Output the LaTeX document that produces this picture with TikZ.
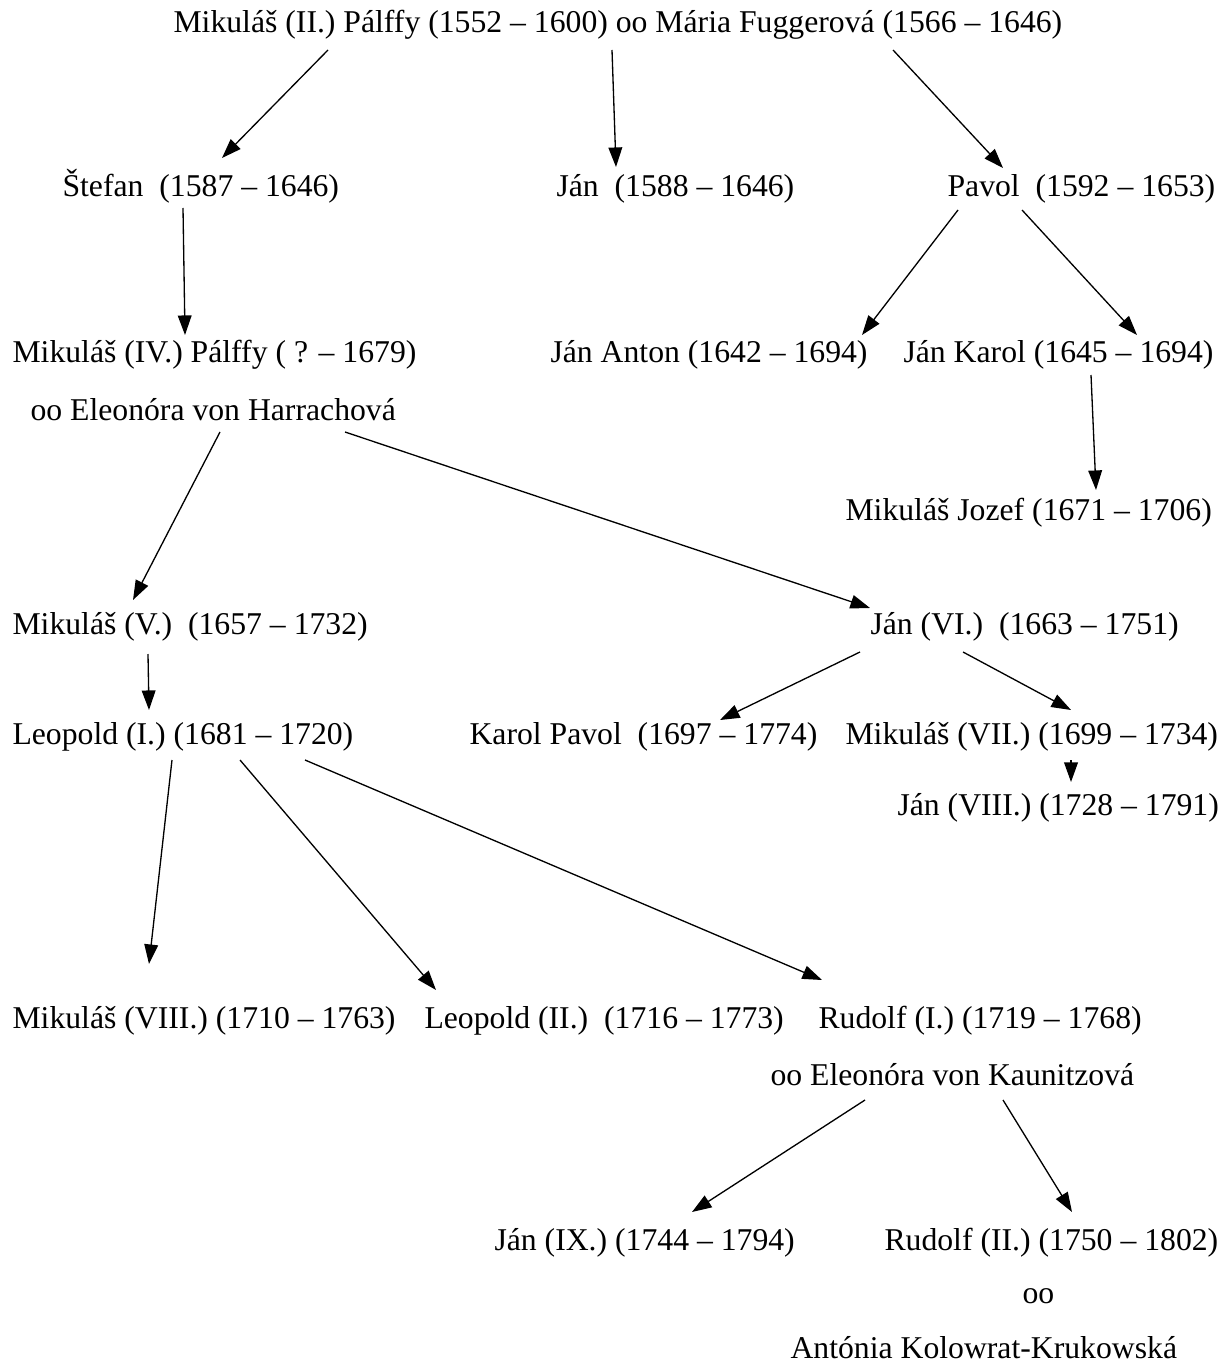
\documentclass[tikz,border=0pt]{standalone}
\usepackage{fontspec}
\setmainfont{Liberation Serif}
\usepackage{tikz}
\usetikzlibrary{arrows.meta,calc}

\begin{document}
\begin{tikzpicture}[x=0.3785pt,y=-0.3785pt,
    person/.style={anchor=base west,inner sep=0pt,font=\fontsize{12}{14}\selectfont},
    line/.style={-{Triangle[length=7.4pt,width=5.2pt]},line width=0.5pt}]
    \useasboundingbox (0,0) rectangle (1230,1362);

    \node[person] (mik2) at (173,33) {Mikuláš (II.) Pálffy (1552 – 1600) oo Mária Fuggerová (1566 – 1646)};
    \node[person] (stefan) at (62,197) {Štefan~ (1587 – 1646)};
    \node[person] (jan1) at (556,197) {Ján~ (1588 – 1646)};
    \node[person] (pavol) at (947,197) {Pavol~ (1592 – 1653)};
    \node[person] (mik4) at (12,363) {Mikuláš (IV.) Pálffy ( ? – 1679)};
    \node[person] (janant) at (550,363) {Ján Anton (1642 – 1694)};
    \node[person] (jankar) at (903,363) {Ján Karol (1645 – 1694)};
    \node[person] (harr) at (30,420) {oo Eleonóra von Harrachová};
    \node[person] (mikjoz) at (845,520) {Mikuláš Jozef (1671 – 1706)};
    \node[person] (mik5) at (12,634) {Mikuláš (V.)~ (1657 – 1732)};
    \node[person] (jan6) at (870,634) {Ján (VI.)~ (1663 – 1751)};
    \node[person] (leo1) at (12,744) {Leopold (I.) (1681 – 1720)};
    \node[person] (karpav) at (469,744) {Karol Pavol~ (1697 – 1774)};
    \node[person] (mik7) at (845,744) {Mikuláš (VII.) (1699 – 1734)};
    \node[person] (jan8) at (897,815) {Ján (VIII.) (1728 – 1791)};
    \node[person] (mik8) at (12,1028) {Mikuláš (VIII.) (1710 – 1763)};
    \node[person] (leo2) at (424,1028) {Leopold (II.)~ (1716 – 1773)};
    \node[person] (rud1) at (818,1028) {Rudolf (I.) (1719 – 1768)};
    \node[person] (kaun) at (770,1085) {oo Eleonóra von Kaunitzová};
    \node[person] (jan9) at (494,1250) {Ján (IX.) (1744 – 1794)};
    \node[person] (rud2) at (884,1250) {Rudolf (II.) (1750 – 1802)};
    \node[person] (oo) at (1022,1303) {oo};
    \node[person] (anto) at (790,1358) {Antónia Kolowrat-Krukowská};

    \draw[line] ($(mik2.base west)+(155,17)$) -- ($(stefan.base west)+(160,-39)$);
    \draw[line] ($(mik2.base west)+(439,17)$) -- ($(jan1.base west)+(60,-30)$);
    \draw[line] ($(mik2.base west)+(720,17)$) -- ($(pavol.base west)+(56,-29)$);
    \draw[line] ($(stefan.base west)+(121,11)$) -- ($(mik4.base west)+(173,-28)$);
    \draw[line] ($(pavol.base west)+(11,13)$) -- ($(janant.base west)+(312,-28)$);
    \draw[line] ($(pavol.base west)+(75,13)$) -- ($(jankar.base west)+(234,-28)$);
    \draw[line] ($(jankar.base west)+(188,12)$) -- ($(mikjoz.base west)+(251,-30)$);
    \draw[line] ($(harr.base west)+(190,12)$) -- ($(mik5.base west)+(121,-34)$);
    \draw[line] ($(harr.base west)+(315,12)$) -- ($(jan6.base west)+(0,-26)$);
    \draw[line] ($(mik5.base west)+(136,20)$) -- ($(leo1.base west)+(137,-34)$);
    \draw[line] ($(jan6.base west)+(-10,18)$) -- ($(karpav.base west)+(251,-24)$);
    \draw[line] ($(jan6.base west)+(93,18)$) -- ($(mik7.base west)+(226,-34)$);
    \draw[line] ($(mik7.base west)+(226,16)$) -- ($(jan8.base west)+(174,-33)$);
    \draw[line] ($(leo1.base west)+(160,16)$) -- ($(mik8.base west)+(137,-64)$);
    \draw[line] ($(leo1.base west)+(228,16)$) -- ($(leo2.base west)+(12,-38)$);
    \draw[line] ($(leo1.base west)+(293,16)$) -- ($(rud1.base west)+(4,-48)$);
    \draw[line] ($(kaun.base west)+(95,15)$) -- ($(jan9.base west)+(198,-38)$);
    \draw[line] ($(kaun.base west)+(233,15)$) -- ($(rud2.base west)+(188,-38)$);
\end{tikzpicture}
\end{document}
